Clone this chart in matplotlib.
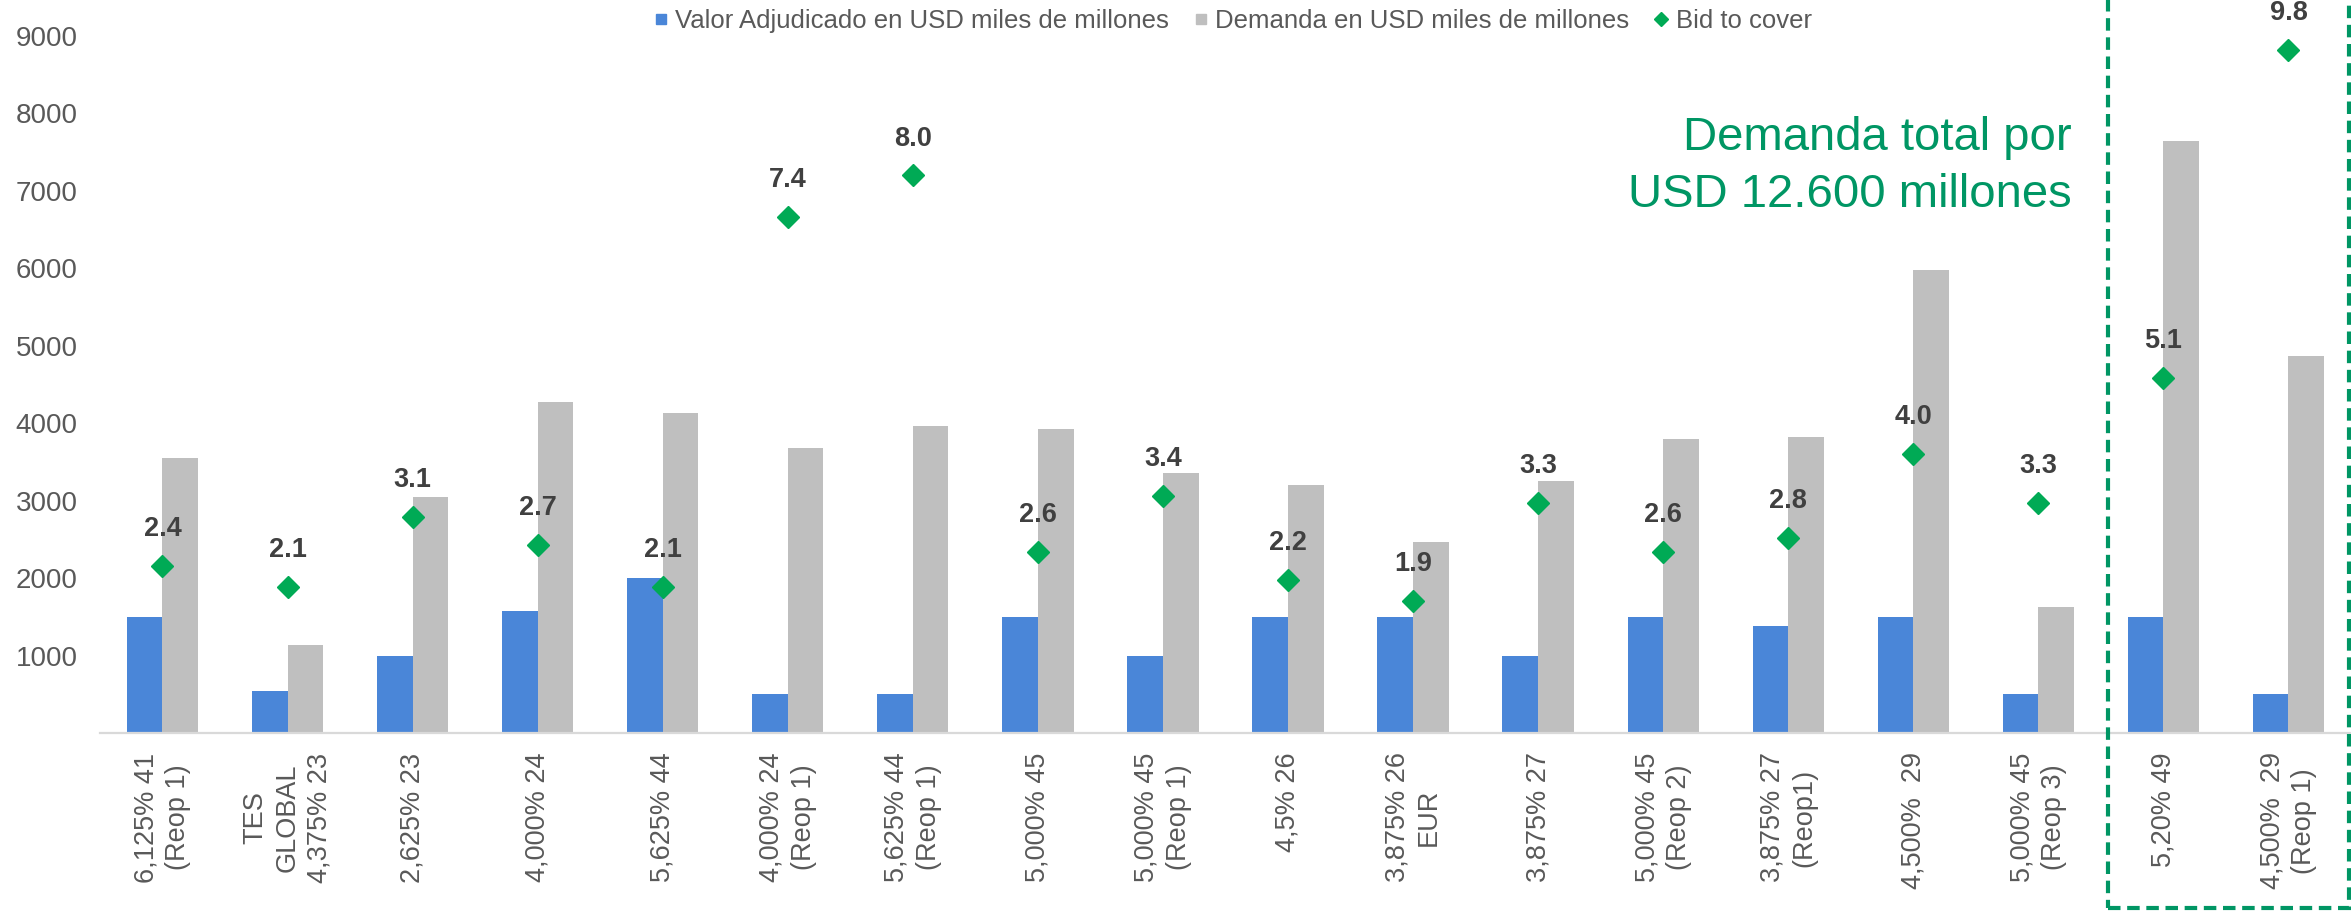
import matplotlib
matplotlib.use("Agg")
import matplotlib.pyplot as plt
from matplotlib.lines import Line2D
from matplotlib.patches import Rectangle
import numpy as np

plt.rcParams['font.family'] = ['Liberation Sans', 'DejaVu Sans']

# --- datos ---
categorias = [
    "6,125% 41\n(Reop 1)", "TES\nGLOBAL\n4,375% 23", "2,625% 23", "4,000% 24",
    "5,625% 44", "4,000% 24\n(Reop 1)", "5,625% 44\n(Reop 1)", "5,000% 45",
    "5,000% 45\n(Reop 1)", "4,5% 26", "3,875% 26\nEUR", "3,875% 27",
    "5,000% 45\n(Reop 2)", "3,875% 27\n(Reop1)", "4,500%  29",
    "5,000% 45\n(Reop 3)", "5,20% 49", "4,500%  29\n(Reop 1)",
]
valor_adjudicado = [1500, 540, 1000, 1580, 2000, 500, 500, 1500, 1000,
                    1500, 1500, 1000, 1500, 1380, 1500, 500, 1500, 500]
demanda = [3550, 1140, 3050, 4270, 4130, 3680, 3970, 3920, 3360,
           3200, 2470, 3260, 3800, 3820, 5980, 1630, 7650, 4870]
bid_to_cover = [2.4, 2.1, 3.1, 2.7, 2.1, 7.4, 8.0, 2.6, 3.4,
                2.2, 1.9, 3.3, 2.6, 2.8, 4.0, 3.3, 5.1, 9.8]
yticks = [1000, 2000, 3000, 4000, 5000, 6000, 7000, 8000, 9000]

azul = "#4A86D8"
gris = "#BFBFBF"
verde = "#00AA55"
verde_txt = "#009664"
txt_gris = "#595959"

fig = plt.figure(figsize=(23.51, 9.14), dpi=100)
ax = fig.add_axes([0.0425, 0.198, 0.9575, 0.7626])

x = np.arange(len(categorias))
w = 0.285
ax.bar(x - w / 2, valor_adjudicado, w, color=azul, zorder=2)
ax.bar(x + w / 2, demanda, w, color=gris, zorder=2)

ax.set_xlim(-0.5, 17.5)
ax.set_ylim(0, 9000)
ax.set_yticks(yticks)
ax.set_yticklabels([str(t) for t in yticks])
ax.set_xticks(x)
ax.set_xticklabels(categorias, rotation=90, multialignment="center")
for lbl in ax.get_xticklabels():
    lbl.set_linespacing(1.3)
ax.tick_params(axis="y", length=0, pad=16, labelsize=20, labelcolor=txt_gris)
ax.tick_params(axis="x", length=0, pad=14, labelsize=19.5, labelcolor=txt_gris)
for s in ["top", "right", "left"]:
    ax.spines[s].set_visible(False)
ax.spines["bottom"].set_color("#d9d9d9")
ax.spines["bottom"].set_linewidth(1.6)

# eje secundario para bid to cover
ax2 = ax.twinx()
ax2.set_ylim(0, 10)
ax2.plot(x, bid_to_cover, linestyle="none", marker="D", markersize=10.7,
         color=verde, zorder=3, clip_on=False)
for xi, b in zip(x, bid_to_cover):
    ax2.annotate(f"{b:.1f}", (xi, b), xytext=(0, 26.5), textcoords="offset points",
                 ha="center", va="center", fontsize=19.5, fontweight="bold",
                 color="#404040", annotation_clip=False)
ax2.set_yticks([])
for s in ax2.spines.values():
    s.set_visible(False)

# leyenda
handles = [
    Line2D([], [], linestyle="none", marker="s", markersize=6.5, color=azul),
    Line2D([], [], linestyle="none", marker="s", markersize=6.5, color=gris),
    Line2D([], [], linestyle="none", marker="D", markersize=7, color=verde),
]
nombres = ["Valor Adjudicado en USD miles de millones",
           "Demanda en USD miles de millones", "Bid to cover"]
fig.legend(handles, nombres, loc="center", bbox_to_anchor=(0.5245, 0.977),
           ncol=3, frameon=False, fontsize=18.5, handlelength=0.5,
           handletextpad=0.3, columnspacing=1.0, labelcolor=txt_gris)

# recuadro y anotación
fig.text(0.8813, 0.8359, "Demanda total por", ha="right", va="baseline",
         fontsize=34, color=verde_txt)
fig.text(0.8813, 0.7735, "USD 12.600 millones", ha="right", va="baseline",
         fontsize=34, color=verde_txt)
fig.patches.append(Rectangle((0.8966, 0.0066), 0.1025, 1.2, fill=False,
                             edgecolor=verde_txt, lw=3, linestyle=(0, (3, 1.6)),
                             transform=fig.transFigure, figure=fig))

fig.savefig("out.png", dpi=100)
